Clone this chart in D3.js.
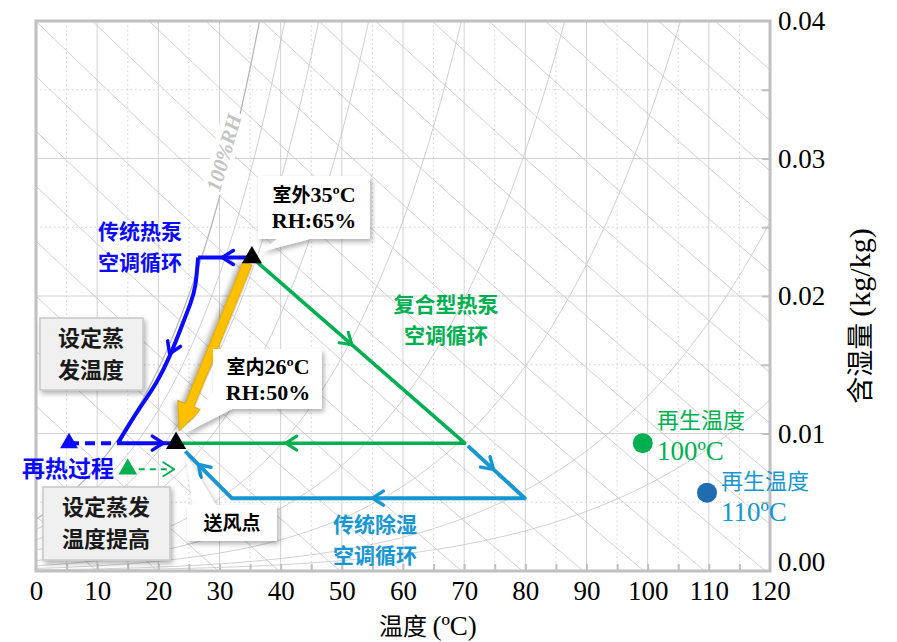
<!DOCTYPE html>
<html>
<head>
<meta charset="utf-8">
<script src="https://cdn.jsdelivr.net/npm/d3@7"></script>
<style>
  body { margin: 0; background: #fff; }
  svg text { font-family: "Liberation Serif", "Noto Sans CJK SC", serif; }
  .cjk { font-family: "Noto Sans CJK SC", sans-serif; }
</style>
</head>
<body>
<svg id="chart" width="897" height="642"></svg>
<script>
// ---- data (temperature in degC, humidity ratio in kg/kg) ----
var tempTicks = [0, 10, 20, 30, 40, 50, 60, 70, 80, 90, 100, 110, 120];
var humTicks = [0, 0.01, 0.02, 0.03, 0.04];
var rhLevels = [1.0, 0.8, 0.6, 0.4, 0.2, 0.1, 0.05, 0.02, 0.01];
var enthalpyLevels = d3.range(10, 240, 10); // kJ/kg grid

var outdoorPt = [35.3, 0.0228];
var supplyPt = [22.9, 0.0093];

// 传统热泵空调循环
var heatPumpTop = [[35.3, 0.0228], [26.5, 0.0228]];
var heatPumpCoil = [[26.5, 0.0228], [26.1, 0.0206], [25.4, 0.0196], [23.9, 0.0179], [21.9, 0.0156],
                    [19.8, 0.0137], [17.0, 0.0119], [15.0, 0.0105], [13.4, 0.0093]];
var heatPumpReheat = [[13.4, 0.0093], [22.9, 0.0093]];
var evapPt = [5.4, 0.0093];

// 复合型热泵空调循环
var hybridCycle = [[35.3, 0.0228], [70.1, 0.0093], [22.9, 0.0093]];
var raisedEvapPt = [15.0, 0.0074];
var raisedEvapEnd = [22.6, 0.0074];

// 传统除湿空调循环
var desiccantCycle = [[70.6, 0.0091], [79.9, 0.0053], [32.0, 0.0053], [24.4, 0.0087]];

// 再生温度
var regen100 = [99.2, 0.0093];
var regen110 = [109.7, 0.0057];

// ---- layout ----
var margin = {top: 21, right: 127, bottom: 71, left: 36};
var width = 897 - margin.left - margin.right;
var height = 642 - margin.top - margin.bottom;

var svg = d3.select("#chart");
var defs = svg.append("defs");
defs.append("clipPath").attr("id", "plotclip")
    .append("rect").attr("width", width).attr("height", height);
var sh = defs.append("filter").attr("id", "shadow")
    .attr("x", "-20%").attr("y", "-20%").attr("width", "150%").attr("height", "150%");
sh.append("feDropShadow").attr("dx", 2).attr("dy", 3).attr("stdDeviation", 2.5)
    .attr("flood-color", "#000").attr("flood-opacity", 0.3);

var g = svg.append("g").attr("transform", "translate(" + margin.left + "," + margin.top + ")");

var x = d3.scaleLinear().domain([0, 120]).range([0, width]);
var y = d3.scaleLinear().domain([0, 0.04]).range([height, 0]);
var line = d3.line().x(function(d) { return x(d[0]); }).y(function(d) { return y(d[1]); });

// psychrometric relations, p = 101.325 kPa
var P = 101.325;
function pws(t) {
  var T = t + 273.15;
  return Math.exp(-5.8002206e3 / T + 1.3914993 - 4.8640239e-2 * T + 4.1764768e-5 * T * T
                  - 1.4452093e-8 * T * T * T + 6.5459673 * Math.log(T)) / 1000;
}
function wAtRH(t, rh) { var p = rh * pws(t); return 0.621945 * p / (P - p); }
function wAtH(t, h) { return (h - 1.006 * t) / (2501 + 1.86 * t); }

// ---- grid ----
var grid = g.append("g");
d3.range(5, 120, 5).forEach(function(t) {
  grid.append("line").attr("x1", x(t)).attr("x2", x(t)).attr("y1", 0).attr("y2", height)
    .attr("stroke", "#d2d2d2").attr("stroke-width", 1)
    .attr("stroke-dasharray", t % 10 ? "1.5,3" : null);
});
[0.005, 0.01, 0.015, 0.02, 0.025, 0.03, 0.035].forEach(function(w, i) {
  grid.append("line").attr("x1", 0).attr("x2", width).attr("y1", y(w)).attr("y2", y(w))
    .attr("stroke", "#d2d2d2").attr("stroke-width", 1)
    .attr("stroke-dasharray", i % 2 ? null : "1.5,3");
});

// psychrometric lines
var psy = g.append("g").attr("clip-path", "url(#plotclip)");
var temps = d3.range(0, 120.01, 0.5);
enthalpyLevels.forEach(function(h) {
  psy.append("path").datum(temps.map(function(t) { return [t, wAtH(t, h)]; }))
    .attr("d", line).attr("fill", "none").attr("stroke", "#c4c4c4").attr("stroke-width", 0.8);
});
rhLevels.forEach(function(rh) {
  var pts = [];
  for (var i = 0; i < temps.length; i++) {
    var w = wAtRH(temps[i], rh);
    if (w < 0 || w > 0.06) break;
    pts.push([temps[i], w]);
  }
  psy.append("path").datum(pts).attr("d", line.curve(d3.curveLinear))
    .attr("fill", "none").attr("stroke", rh === 1 ? "#b4b4b4" : "#c4c4c4")
    .attr("stroke-width", rh === 1 ? 1.2 : 0.8);
});

// 100%RH label
var rhLab = g.append("g").attr("transform", "translate(" + (x(30.9)) + "," + (y(0.0304)) + ") rotate(-74)");
rhLab.append("rect").attr("x", -42).attr("y", -13).attr("width", 84).attr("height", 24).attr("fill", "#fff");
rhLab.append("text").attr("text-anchor", "middle").attr("dy", 6)
  .attr("font-size", 21).attr("font-weight", "bold").attr("font-style", "italic")
  .attr("fill", "#c4c4c4").text("100%RH");

// frame and inner ticks
g.append("rect").attr("width", width).attr("height", height)
  .attr("fill", "none").attr("stroke", "#c0c0c0").attr("stroke-width", 3);
g.append("g").attr("transform", "translate(0," + height + ")")
  .call(d3.axisTop(x).tickValues(d3.range(5, 120, 5)).tickSize(7).tickFormat(""))
  .call(function(s) { s.select(".domain").remove(); s.selectAll("line").attr("stroke", "#c0c0c0").attr("stroke-width", 2); });
g.append("g").attr("transform", "translate(" + width + ",0)")
  .call(d3.axisLeft(y).tickValues([0.005, 0.01, 0.015, 0.02, 0.025, 0.03, 0.035]).tickSize(8).tickFormat(""))
  .call(function(s) { s.select(".domain").remove(); s.selectAll("line").attr("stroke", "#c0c0c0").attr("stroke-width", 2); });

// tick labels
g.append("g").attr("transform", "translate(0," + height + ")")
  .call(d3.axisBottom(x).tickValues(tempTicks).tickSize(0).tickPadding(10))
  .call(function(s) { s.select(".domain").remove(); s.selectAll("text").attr("font-size", 27).attr("fill", "#000")
    .style("font-family", "Liberation Serif"); });
g.append("g").attr("transform", "translate(" + width + ",0)")
  .call(d3.axisRight(y).tickValues(humTicks).tickSize(0).tickPadding(8).tickFormat(d3.format(".2f")))
  .call(function(s) {
    s.select(".domain").remove();
    s.selectAll("text").attr("font-size", 27).attr("fill", "#000").style("font-family", "Liberation Serif");
    // lift the 0.00 label a little so it clears the 120 label below it
    s.selectAll(".tick").filter(function(d) { return d === 0; }).select("text").attr("y", -9.5);
  });

// axis titles
var xt = svg.append("text").attr("x", 428).attr("y", 635).attr("text-anchor", "middle").attr("font-size", 27);
xt.append("tspan").attr("class", "cjk").attr("font-size", 24).text("温度 ");
xt.append("tspan").text("(ºC)");
var yt = svg.append("text").attr("transform", "translate(870,316) rotate(-90)")
  .attr("text-anchor", "middle").attr("font-size", 30);
yt.append("tspan").attr("class", "cjk").attr("font-size", 27).text("含湿量 ");
yt.append("tspan").text("(kg/kg)");

// ---- helpers ----
function px(d) { return [x(d[0]), y(d[1])]; }
function chevron(a, b, frac, color, sw) {
  var ang = Math.atan2(b[1] - a[1], b[0] - a[0]) * 180 / Math.PI;
  var cx = a[0] + (b[0] - a[0]) * frac, cy = a[1] + (b[1] - a[1]) * frac;
  g.append("path").attr("d", "M-11,-7L0,0L-11,7")
    .attr("transform", "translate(" + cx + "," + cy + ") rotate(" + ang + ")")
    .attr("fill", "none").attr("stroke", color).attr("stroke-width", sw)
    .attr("stroke-linecap", "round").attr("stroke-linejoin", "round");
}
function tri(d, color, size) {
  g.append("path").attr("d", d3.symbol(d3.symbolTriangle, size)())
    .attr("transform", "translate(" + x(d[0]) + "," + y(d[1]) + ")").attr("fill", color);
}

var blue = "#0a0aff", green = "#00b050", cyan = "#1796d2", yellow = "#ffc000";

// ---- 传统除湿 cycle ----
g.append("path").datum(desiccantCycle).attr("d", line.curve(d3.curveLinear))
  .attr("fill", "none").attr("stroke", cyan).attr("stroke-width", 4).attr("stroke-linejoin", "round");
chevron(px(desiccantCycle[0]), px(desiccantCycle[1]), 0.45, cyan, 3.5);
chevron(px(desiccantCycle[1]), px(desiccantCycle[2]), 0.52, cyan, 3.5);
chevron(px(desiccantCycle[2]), px(desiccantCycle[3]), 0.72, cyan, 3.5);

// ---- 复合型 cycle ----
g.append("path").datum(hybridCycle).attr("d", line.curve(d3.curveLinear))
  .attr("fill", "none").attr("stroke", green).attr("stroke-width", 3.5).attr("stroke-linejoin", "round");
chevron(px(hybridCycle[0]), px(hybridCycle[1]), 0.47, green, 3);
chevron(px(hybridCycle[1]), px(hybridCycle[2]), 0.62, green, 3);

// raised evaporating temperature (dashed green)
g.append("path").datum([raisedEvapPt, raisedEvapEnd]).attr("d", line.curve(d3.curveLinear))
  .attr("fill", "none").attr("stroke", green).attr("stroke-width", 2).attr("stroke-dasharray", "6,5");
chevron(px(raisedEvapPt), px(raisedEvapEnd), 1, green, 1.8);
tri(raisedEvapPt, green, 150);

// ---- 传统热泵 cycle ----
g.append("path").datum(heatPumpTop).attr("d", line.curve(d3.curveLinear))
  .attr("fill", "none").attr("stroke", blue).attr("stroke-width", 4);
g.append("path").datum(heatPumpCoil).attr("d", line.curve(d3.curveBasis))
  .attr("fill", "none").attr("stroke", blue).attr("stroke-width", 4).attr("stroke-linejoin", "round");
g.append("path").datum(heatPumpReheat).attr("d", line.curve(d3.curveLinear))
  .attr("fill", "none").attr("stroke", blue).attr("stroke-width", 4);
g.append("path").datum([evapPt, heatPumpReheat[0]]).attr("d", line.curve(d3.curveLinear))
  .attr("fill", "none").attr("stroke", blue).attr("stroke-width", 4).attr("stroke-dasharray", "10,6");
chevron(px(heatPumpTop[0]), px(heatPumpTop[1]), 0.55, blue, 3.5);
chevron(px(heatPumpCoil[3]), px(heatPumpCoil[5]), 0.5, blue, 3.5);
chevron(px(heatPumpReheat[0]), px(heatPumpReheat[1]), 0.78, blue, 3.5);
tri(evapPt, blue, 140);

// ---- yellow arrow outdoor -> supply ----
(function() {
  var a = px(outdoorPt), b = px(supplyPt);
  var dx = b[0] - a[0], dy = b[1] - a[1], L = Math.sqrt(dx * dx + dy * dy);
  var ang = Math.atan2(dy, dx) * 180 / Math.PI;
  var len = L - 13;
  g.append("path")
    .attr("d", "M6,-5L" + (len - 28) + ",-5L" + (len - 28) + ",-13L" + len + ",0L" + (len - 28) + ",13L" + (len - 28) + ",5L6,5Z")
    .attr("transform", "translate(" + (a[0] - 2) + "," + a[1] + ") rotate(" + ang + ")")
    .attr("fill", yellow).attr("stroke", "#7a5a00").attr("stroke-width", 0.4).attr("filter", "url(#shadow)");
})();

// black state points
tri(outdoorPt, "#000", 175);
tri(supplyPt, "#000", 175);

// regeneration points
g.append("circle").attr("cx", x(regen100[0])).attr("cy", y(regen100[1])).attr("r", 10).attr("fill", green);
g.append("circle").attr("cx", x(regen110[0])).attr("cy", y(regen110[1])).attr("r", 10).attr("fill", "#1f6db0");

// ---- annotations ----
function callout(box, tail) {
  var bx = box[0], by = box[1], bw = box[2], bh = box[3];
  svg.append("path").attr("d", "M" + bx + "," + by + "h" + bw + "v" + bh + "H" + tail[1][0] + "L" + tail[2][0] + "," + tail[2][1] +
      "L" + tail[0][0] + "," + (by + bh) + "H" + bx + "Z")
    .attr("fill", "#fff").attr("filter", "url(#shadow)");
}
function calloutLeft(box, tail) {
  var bx = box[0], by = box[1], bw = box[2], bh = box[3];
  svg.append("path").attr("d", "M" + bx + "," + by + "h" + bw + "v" + bh + "H" + tail[1][0] +
      "L" + tail[2][0] + "," + tail[2][1] + "L" + bx + "," + tail[0][1] + "Z")
    .attr("fill", "#fff").attr("filter", "url(#shadow)");
}
function grayBox(bx, by, bw, bh) {
  svg.append("rect").attr("x", bx).attr("y", by).attr("width", bw).attr("height", bh)
    .attr("fill", "#f0f0f0").attr("stroke", "#c8c8c8").attr("stroke-width", 1.5).attr("filter", "url(#shadow)");
}
// one <text> per line so that lines never share a box
function label(tx, ty, lines, opt) {
  lines.forEach(function(ln, i) {
    var t = svg.append("text").attr("x", tx).attr("y", ty + i * opt.lh)
      .attr("text-anchor", opt.anchor || "middle")
      .attr("fill", opt.color).attr("font-weight", opt.weight || "bold");
    ln.forEach(function(part) {
      t.append("tspan").attr("class", part.c ? "cjk" : null)
        .attr("font-size", part.c ? opt.cs : opt.ls).text(part.t);
    });
  });
}

var o = px(outdoorPt), s = px(supplyPt);
// 室外
callout([258, 176, 112, 63], [[277], [310], [o[0] + margin.left + 10, o[1] + margin.top - 6]]);
label(314, 202, [[{t: "室外", c: 1}, {t: "35ºC"}], [{t: "RH:65%"}]], {color: "#000", cs: 19, ls: 22, lh: 26});
// 室内
calloutLeft([213, 349, 109, 60], [[0, 392], [232], [s[0] + margin.left + 7, s[1] + margin.top - 9]]);
label(268, 374, [[{t: "室内", c: 1}, {t: "26ºC"}], [{t: "RH:50%"}]], {color: "#000", cs: 19, ls: 22, lh: 26});
// 送风点
svg.append("path").attr("d", "M187,505L193,505L" + (s[0] + margin.left + 9) + "," + (s[1] + margin.top + 10) + "L216,505L277,505L277,541L187,541Z")
  .attr("fill", "#fff").attr("filter", "url(#shadow)");
label(232, 530, [[{t: "送风点", c: 1}]], {color: "#000", cs: 19, ls: 20, lh: 0});

// gray boxes
grayBox(40, 318, 103, 72);
label(91, 346, [[{t: "设定蒸", c: 1}], [{t: "发温度", c: 1}]], {color: "#1a1a1a", cs: 22, ls: 22, lh: 32});
grayBox(43, 487, 127, 73);
label(106, 515, [[{t: "设定蒸发", c: 1}], [{t: "温度提高", c: 1}]], {color: "#1a1a1a", cs: 22, ls: 22, lh: 32});

// cycle labels
label(140, 239, [[{t: "传统热泵", c: 1}], [{t: "空调循环", c: 1}]], {color: blue, cs: 21, ls: 21, lh: 31});
label(446, 312, [[{t: "复合型热泵", c: 1}], [{t: "空调循环", c: 1}]], {color: green, cs: 21, ls: 21, lh: 31});
label(375, 532, [[{t: "传统除湿", c: 1}], [{t: "空调循环", c: 1}]], {color: cyan, cs: 21, ls: 21, lh: 31});
label(68, 477, [[{t: "再热过程", c: 1}]], {color: blue, cs: 23, ls: 23, lh: 0});

// regeneration labels
label(657, 428, [[{t: "再生温度", c: 1}], [{t: "100ºC"}]], {color: green, cs: 22, ls: 27, lh: 32, anchor: "start", weight: "normal"});
label(721, 489, [[{t: "再生温度", c: 1}], [{t: "110ºC"}]], {color: cyan, cs: 22, ls: 27, lh: 32, anchor: "start", weight: "normal"});
</script>
</body>
</html>
